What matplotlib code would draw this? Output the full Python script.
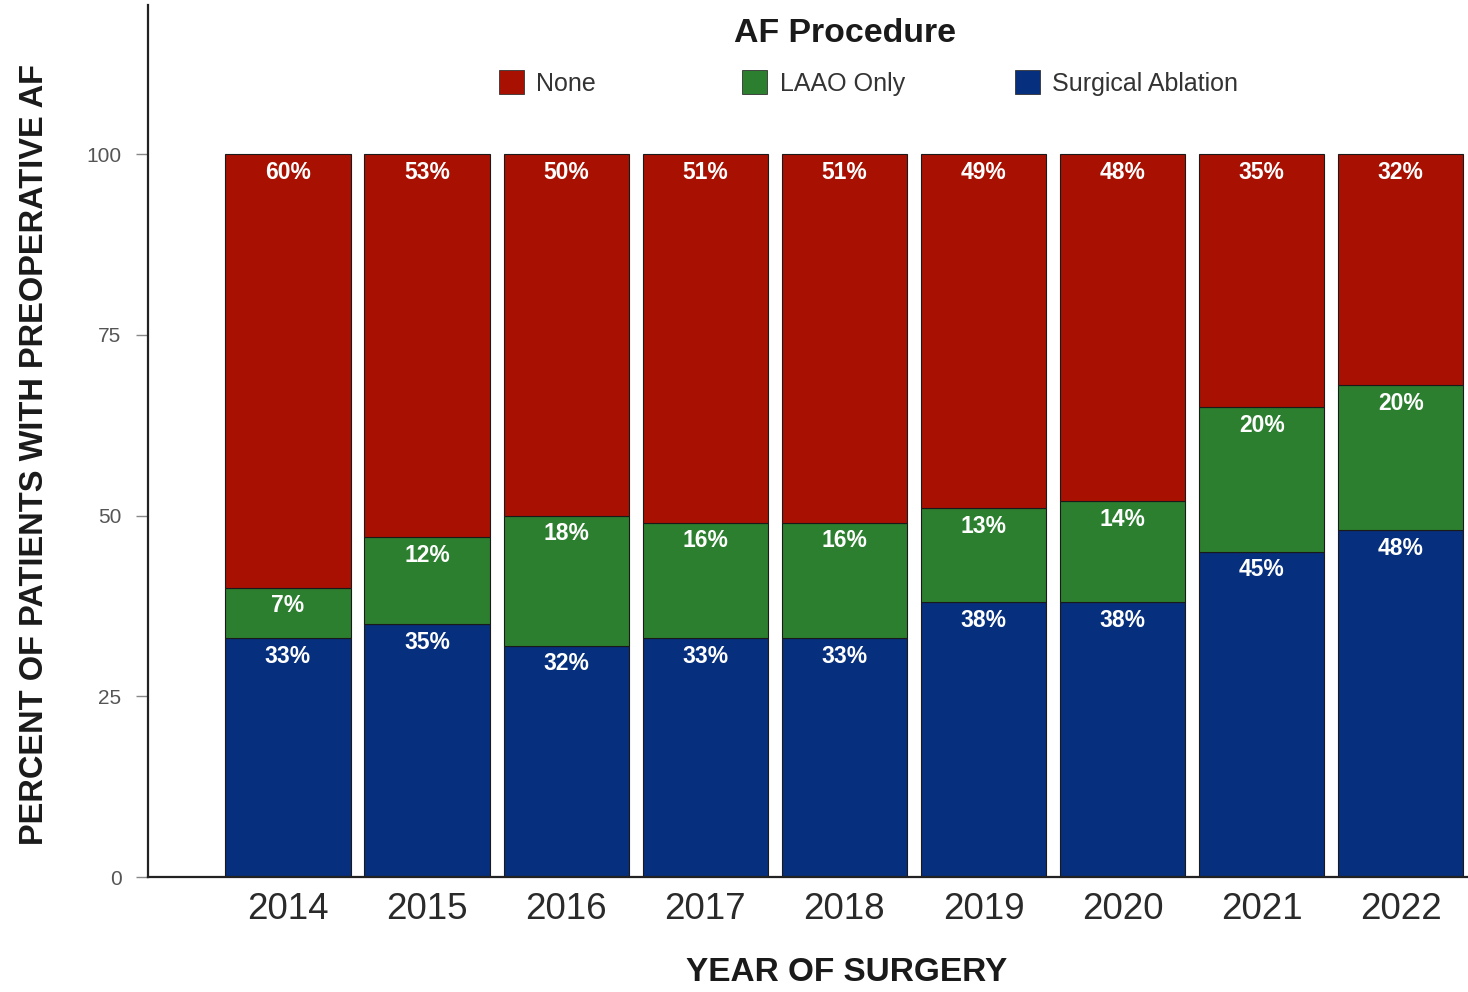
import numpy as np
import matplotlib.pyplot as plt
from matplotlib.patches import Patch

plt.rcParams['font.family'] = ['Liberation Sans', 'DejaVu Sans']

years = ['2014', '2015', '2016', '2017', '2018', '2019', '2020', '2021', '2022']
surgical = [33, 35, 32, 33, 33, 38, 38, 45, 48]
laao = [7, 12, 18, 16, 16, 13, 14, 20, 20]
none = [60, 53, 50, 51, 51, 49, 48, 35, 32]

c_none = '#a81002'
c_laao = '#2b7f2f'
c_surg = '#062f7d'

fig = plt.figure(figsize=(14.68, 9.92), dpi=100)
ax = fig.add_axes([0.1008, 0.1159, 0.8992, 0.879])

x = np.arange(len(years))
surgical = np.array(surgical)
laao = np.array(laao)
none = np.array(none)

w = 0.9
ax.bar(x, surgical, w, color=c_surg, edgecolor='#1a1a1a', linewidth=0.8)
ax.bar(x, laao, w, bottom=surgical, color=c_laao, edgecolor='#1a1a1a', linewidth=0.8)
ax.bar(x, none, w, bottom=surgical + laao, color=c_none, edgecolor='#1a1a1a', linewidth=0.8)

# percentage labels near the top of each segment
for i in range(len(years)):
    tops = [surgical[i], surgical[i] + laao[i], surgical[i] + laao[i] + none[i]]
    vals = [surgical[i], laao[i], none[i]]
    for t, v in zip(tops, vals):
        ax.text(x[i], t - 2.5, f'{v}%', ha='center', va='center',
                color='white', fontsize=16.5, fontweight='bold')

ax.set_xlim(-1.006, 8.483)
ax.set_ylim(0, 120.6)
ax.set_yticks([0, 25, 50, 75, 100])
ax.set_xticks(x)
ax.set_xticklabels(years)

ax.tick_params(axis='y', length=9, width=1, color='#888888', labelcolor='#555555',
               labelsize=15, pad=10)
ax.tick_params(axis='x', length=0, labelcolor='#2a2a2a', labelsize=26.5, pad=11)

for s in ['top', 'right']:
    ax.spines[s].set_visible(False)
for s in ['left', 'bottom']:
    ax.spines[s].set_color('#222222')
    ax.spines[s].set_linewidth(1.6)

ax.set_ylabel('PERCENT OF PATIENTS WITH PREOPERATIVE AF', fontsize=23.5,
              fontweight='bold', color='#1a1a1a', va='center')
ax.yaxis.set_label_coords(-0.0856, 0.484)
ax.set_xlabel('YEAR OF SURGERY', fontsize=24, fontweight='bold',
              color='#1a1a1a', va='center')
ax.xaxis.set_label_coords(0.529, -0.110)

# legend across the top
fig.text(845 / 1468, 1 - 33 / 992, 'AF Procedure', ha='center', va='center',
         fontsize=24.4, fontweight='bold', color='#1a1a1a')
entries = [(c_none, 'None', 499), (c_laao, 'LAAO Only', 742), (c_surg, 'Surgical Ablation', 1015)]
for col, lab, px in entries:
    h = Patch(facecolor=col, edgecolor='#333333', linewidth=0.6, label=lab)
    leg = fig.legend(handles=[h], loc='center left', bbox_to_anchor=(px / 1468, 1 - 83 / 992),
                     frameon=False, fontsize=18, handlelength=1.0, handleheight=1.05,
                     handletextpad=0.5, borderpad=0, borderaxespad=0)
    for t in leg.get_texts():
        t.set_color('#333333')

fig.savefig('out.png', dpi=100)
